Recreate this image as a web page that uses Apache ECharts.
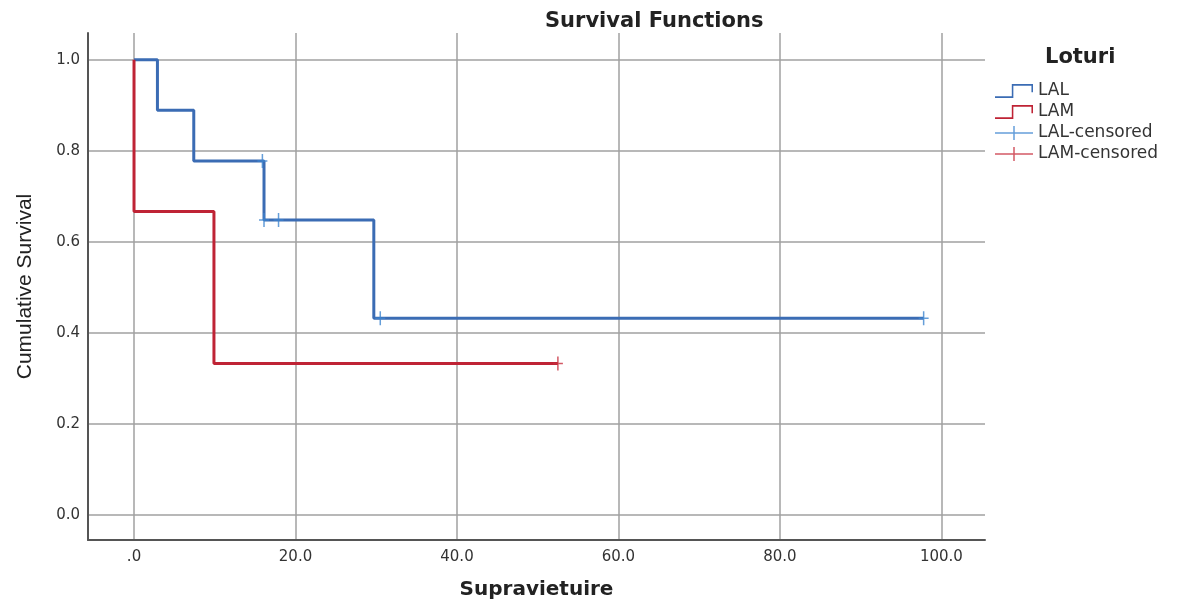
<!DOCTYPE html>
<html>
<head>
<meta charset="utf-8">
<script src="https://cdn.jsdelivr.net/npm/echarts@6/dist/echarts.min.js"></script>
<style>html,body{margin:0;padding:0;background:#fff;}#c{width:1181px;height:609px;}</style>
</head>
<body>
<div id="c"></div>
<script>
// Kaplan-Meier step points (time, cumulative survival)
const lalTime = [0, 2.9, 7.4, 16.1, 29.7, 97.8];
const lalSurv = [1.0, 0.889, 0.778, 0.648, 0.432, 0.432];
const lamTime = [0, 0, 9.9, 52.5];
const lamSurv = [1.0, 0.667, 0.333, 0.333];
// censored observations
const lalCensTime = [15.9, 16.1, 17.9, 30.5, 97.8];
const lalCensSurv = [0.778, 0.648, 0.648, 0.432, 0.432];
const lamCensTime = [52.5];
const lamCensSurv = [0.333];
// ticks
const xTicks = [0, 20, 40, 60, 80, 100];
const yTicks = [0, 0.2, 0.4, 0.6, 0.8, 1.0];
const seriesNames = ['LAL', 'LAM', 'LAL-censored', 'LAM-censored'];

const zip = (a, b) => a.map((v, i) => [v, b[i]]);

const stepIcon = 'path://M0,11.25 H16.25 V1.25 H36.75 V8 H35.25 V2.75 H17.75 V12.75 H0 Z';
const censIcon = 'path://M0,6.25 H18.25 V0 H19.75 V6.25 H38 V7.75 H19.75 V14 H18.25 V7.75 H0 Z';
const plusSym = 'path://M-0.75,-7 H0.75 V-0.75 H5 V0.75 H0.75 V7 H-0.75 V0.75 H-5 V-0.75 H-0.75 Z';

const cLAL = '#3b6cb4', cLAM = '#bf2335', cLALc = '#3f86d0', cLAMc = '#c8303f';

const chart = echarts.init(document.getElementById('c'), null, {renderer: 'canvas'});
chart.setOption({
  backgroundColor: '#ffffff',
  animation: false,
  title: [
    {text: 'Survival Functions', left: 540, top: 6,
     textStyle: {fontFamily: 'DejaVu Sans', fontWeight: 'bold', fontSize: 21, color: '#222'}},
    {text: 'Loturi', left: 1040, top: 42,
     textStyle: {fontFamily: 'DejaVu Sans', fontWeight: 'bold', fontSize: 21, color: '#222'}}
  ],
  legend: {
    orient: 'vertical', left: 990, top: 77,
    itemWidth: 38, itemHeight: 14, itemGap: 3,
    symbolKeepAspect: false,
    itemStyle: {borderWidth: 0},
    textStyle: {fontFamily: 'DejaVu Sans', fontSize: 17, color: '#333', lineHeight: 18},
    data: [
      {name: seriesNames[0], icon: stepIcon},
      {name: seriesNames[1], icon: stepIcon},
      {name: seriesNames[2], icon: censIcon},
      {name: seriesNames[3], icon: censIcon}
    ]
  },
  grid: {left: 88, top: 33, width: 897, height: 507, containLabel: false},
  xAxis: {
    type: 'value', min: -5.7, max: 105.4,
    name: 'Supravietuire', nameLocation: 'middle', nameGap: 40,
    nameTextStyle: {fontFamily: 'DejaVu Sans', fontWeight: 'bold', fontSize: 20, color: '#222'},
    axisLine: {show: true, onZero: false, lineStyle: {color: '#555', width: 2}},
    axisTick: {show: false, customValues: xTicks},
    axisLabel: {customValues: xTicks, margin: 10, fontFamily: 'DejaVu Sans', fontSize: 15, color: '#333',
      formatter: v => v === 0 ? '.0' : v.toFixed(1)},
    splitLine: {show: true, lineStyle: {color: '#a0a0a0', width: 1.5}}
  },
  yAxis: {
    type: 'value', min: -0.055, max: 1.059,
    name: 'Cumulative Survival', nameLocation: 'middle', nameGap: 52, nameRotate: 90,
    nameTextStyle: {fontFamily: 'Liberation Sans', fontSize: 21, color: '#222'},
    axisLine: {show: true, onZero: false, lineStyle: {color: '#555', width: 2}},
    axisTick: {show: false, customValues: yTicks},
    axisLabel: {customValues: yTicks, margin: 8, fontFamily: 'DejaVu Sans', fontSize: 15, color: '#333',
      formatter: v => v.toFixed(1)},
    splitLine: {show: true, lineStyle: {color: '#a0a0a0', width: 1.5}}
  },
  series: [
    {name: seriesNames[0], type: 'line', step: 'end', symbol: 'none', z: 3,
     data: zip(lalTime, lalSurv), itemStyle: {color: cLAL}, lineStyle: {color: cLAL, width: 3}},
    {name: seriesNames[1], type: 'line', step: 'end', symbol: 'none', z: 4,
     data: zip(lamTime, lamSurv), itemStyle: {color: cLAM}, lineStyle: {color: cLAM, width: 3}},
    {name: seriesNames[2], type: 'scatter', symbol: plusSym, symbolSize: [10, 14], z: 5,
     data: zip(lalCensTime, lalCensSurv), itemStyle: {color: cLALc}},
    {name: seriesNames[3], type: 'scatter', symbol: plusSym, symbolSize: [10, 14], z: 5,
     data: zip(lamCensTime, lamCensSurv), itemStyle: {color: cLAMc}}
  ]
});
</script>
</body>
</html>
